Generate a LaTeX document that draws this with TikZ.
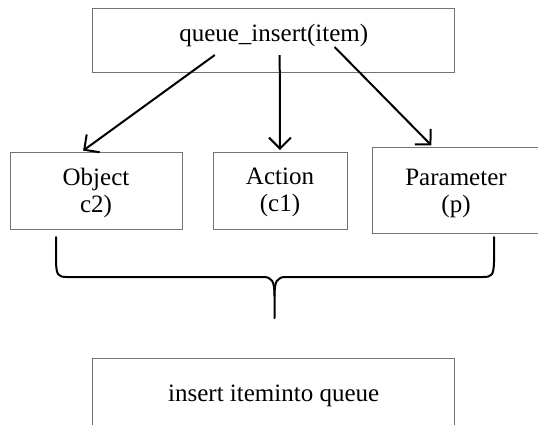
\documentclass[tikz,border=0pt]{standalone}
\usepackage{fontspec}
\setmainfont{Liberation Serif}
\usetikzlibrary{arrows.meta}

\begin{document}
\begin{tikzpicture}[x=1pt, y=-1pt,
  every node/.style={font=\fontsize{25}{27}\selectfont},
  box/.style={draw=black!55, line width=1pt, inner sep=0pt},
  txt/.style={align=center, inner sep=0pt},
  link/.style={line width=2pt, shorten >=1.5pt, -{Straight Barb[length=11pt, width=22pt, line width=2pt]}},
  brace/.style={line width=2pt, line cap=round}]
  \useasboundingbox (0,0) rectangle (538,424);

  \node[box, minimum width=362, minimum height=64] (call) at (273.7,40.5) {};
  \node[txt] (call-txt) at ([yshift=5pt]call.center) {queue\_insert(item)};

  \node[box, minimum width=172, minimum height=77] (object) at (96,190.5) {};
  \node[txt] (object-txt) at ([yshift=-2pt]object.center) {Object\\c2)};
  \node[box, minimum width=134, minimum height=77] (action) at (280,190.5) {};
  \node[txt] (action-txt) at ([yshift=-2pt]action.center) {Action\\(c1)};
  \node[box, minimum width=180, minimum height=86] (param) at (462,190) {};
  \node[txt] (param-txt) at ([xshift=-6pt, yshift=-3pt]param.center) {Parameter\\(p)};

  \node[box, minimum width=362, minimum height=80] (result) at (273.7,398) {};
  \node[txt] (result-txt) at ([yshift=2pt]result.center) {insert iteminto queue};

  \coordinate (s1) at (214.8,55);
  \coordinate (s2) at (279.7,55);
  \coordinate (s3) at (334.6,47);
  \draw[link] (s1) -- ([xshift=72.4pt]object.north west);
  \draw[link] (s2) -- (action.north);
  \draw[link] (s3) -- ([xshift=61pt]param.north west);

  \coordinate (tip) at (274.5,318);
  \draw[brace] (56,237) -- (56,262) .. controls (56.5,275) and (58,277) .. (67,277)
    -- (263,277) .. controls (272,277) and (274.5,281) .. (274.5,296) -- (tip);
  \draw[brace] (494,237) -- (494,262) .. controls (493.5,275) and (492,277) .. (483,277)
    -- (286,277) .. controls (277,277) and (274.5,281) .. (274.5,296);
\end{tikzpicture}
\end{document}
